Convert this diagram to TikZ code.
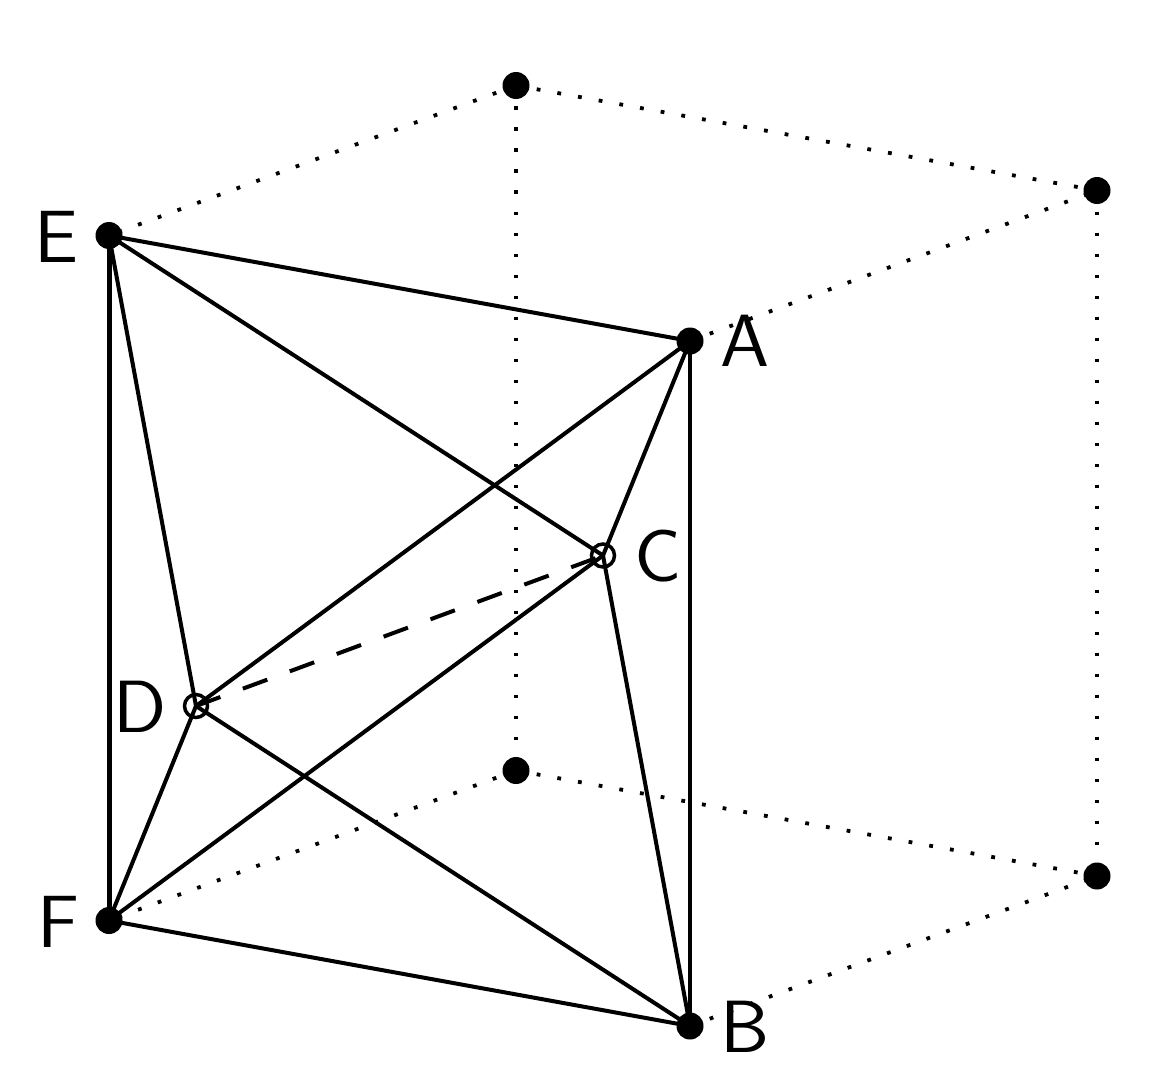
\documentclass[tikz,border=0pt]{standalone}
\begin{document}
\begin{tikzpicture}[x=1pt,y=-1pt,
  solid dot/.style={circle,fill=black,draw=none,minimum size=27pt,inner sep=0pt,outer sep=0pt},
  hollow dot/.style={circle,draw=black,fill=none,line width=3.5pt,minimum size=23pt,inner sep=0pt,outer sep=0pt},
  edge line/.style={line width=4pt,line cap=butt},
  hidden line/.style={line width=4pt,dash pattern=on 26pt off 24pt},
  box line/.style={line width=3.8pt,dash pattern=on 3.8pt off 17.2pt},
  point label/.style={font=\fontsize{74}{74}\selectfont\sffamily,anchor=base,inner sep=0pt,text=black,xscale=1.06}]
\useasboundingbox (0,0) rectangle (1161,1086);
\node[solid dot] (T) at (516,85.5) {};
\node[solid dot] (R) at (1097,190.5) {};
\node[solid dot] (G) at (516,770.5) {};
\node[solid dot] (H) at (1097,876) {};
\node[solid dot] (E) at (109,235.5) {};
\node[solid dot] (A) at (690,341) {};
\node[solid dot] (F) at (109,920.5) {};
\node[solid dot] (B) at (690,1026) {};
\node[hollow dot] (C) at (603,555.5) {};
\node[hollow dot] (D) at (196,706) {};
\draw[box line] (T.center) -- (E.center);
\draw[box line] (T.center) -- (R.center);
\draw[box line] (A.center) -- (R.center);
\draw[box line] (T.center) -- (G.center);
\draw[box line] (R.center) -- (H.center);
\draw[box line] (G.center) -- (F.center);
\draw[box line] (G.center) -- (H.center);
\draw[box line] (B.center) -- (H.center);
\draw[edge line] (E.center) -- (A.center);
\draw[edge line,line width=5pt] (E.center) -- (F.center);
\draw[edge line] (E.center) -- (D.center);
\draw[edge line] (E.center) -- (C.center);
\draw[edge line] (A.center) -- (B.center);
\draw[edge line] (A.center) -- (C.center);
\draw[edge line] (A.center) -- (D.center);
\draw[edge line] (C.center) -- (B.center);
\draw[edge line] (C.center) -- (F.center);
\draw[edge line] (D.center) -- (F.center);
\draw[edge line] (D.center) -- (B.center);
\draw[edge line] (F.center) -- (B.center);
\draw[hidden line] (D.center) -- (C.center);
\node[point label] (lE) at (57,262) {E};
\node[point label] (lA) at (745,366) {A};
\node[point label] (lC) at (658,581) {C};
\node[point label] (lD) at (140,732) {D};
\node[point label] (lF) at (58,947) {F};
\node[point label] (lB) at (745,1052) {B};
\end{tikzpicture}
\end{document}
